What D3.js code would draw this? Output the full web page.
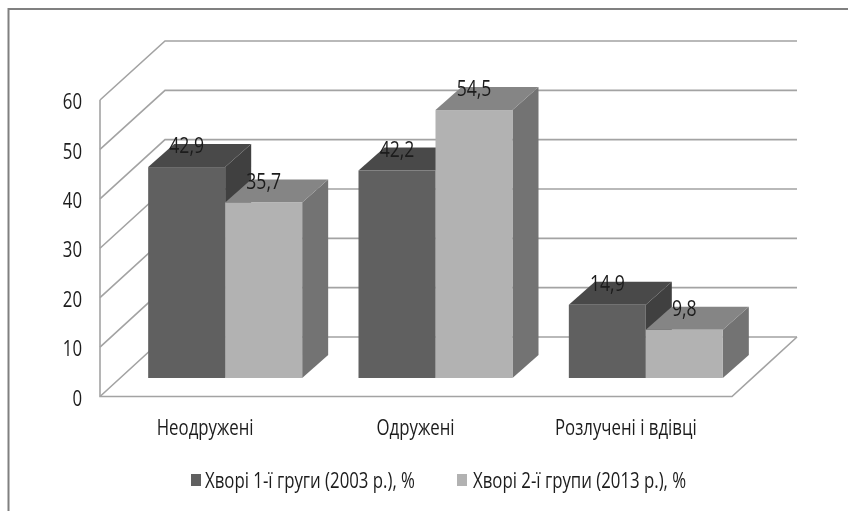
<!DOCTYPE html>
<html><head><meta charset="utf-8">
<script src="https://cdn.jsdelivr.net/npm/d3@7"></script>
<style>html,body{margin:0;padding:0;background:#fff}svg{display:block}text{font-family:"Open Sans",sans-serif;fill:#1c1c1c}</style>
</head><body><svg id="c" width="848" height="511"></svg>
<script>
const categories = ["Неодружені", "Одружені", "Розлучені і вдівці"];
const seriesNames = ["Хворі 1-ї груги (2003 р.), %", "Хворі 2-ї групи (2013 р.), %"];
const series1 = [42.9, 42.2, 14.9];
const series2 = [35.7, 54.5, 9.8];
const yTicks = [0, 10, 20, 30, 40, 50, 60];

const W = 848, H = 511;
const svg = d3.select("#c").attr("viewBox", [0, 0, W, H]);
const defs = svg.append("defs");
defs.append("filter").attr("id", "soft")
  .attr("filterUnits", "userSpaceOnUse").attr("x", 0).attr("y", 0).attr("width", W).attr("height", H)
  .append("feGaussianBlur").attr("stdDeviation", 0.45);
const root = svg.append("g").attr("filter", "url(#soft)");

const fmt = v => String(v).replace(".", ",");
const stretch = 0.8;
function label(g, x, y, s, anchor, size) {
  g.append("text").attr("transform", `translate(${x},${y}) scale(${stretch},1)`)
    .attr("text-anchor", anchor).attr("dominant-baseline", "central")
    .attr("font-size", size).text(s);
}

// outer frame (left and top only are visible)
root.append("path").attr("d", "M8.5,511V9H848").attr("fill", "none").attr("stroke", "#808080").attr("stroke-width", 2);

// wall geometry
const yFront = d3.scaleLinear().domain([0, 60]).range([396.5, 100]);
const yBack = d3.scaleLinear().domain([0, 60]).range([337, 41]);
const yBar = d3.scaleLinear().domain([0, 60]).range([378, 83]);
const xFrontL = 100, xFrontR = 732, xBackL = 165, xBackR = 797;

const grid = root.append("g").attr("fill", "none").attr("stroke", "#a3a3a3").attr("stroke-width", 1.6);
yTicks.forEach(t => {
  grid.append("path").attr("d", `M${xFrontL},${yFront(t)}L${xBackL},${yBack(t)}L${xBackR},${yBack(t)}`);
});
grid.append("path").attr("d", `M${xFrontL},${yFront(60)}V${yFront(0)}H${xFrontR}L${xBackR},${yBack(0)}`);

// bars
const x0 = d3.scaleBand().domain(categories).range([120, 751]);
const x1 = d3.scaleBand().domain([0, 1]).range([x0.bandwidth() / 2 - 77, x0.bandwidth() / 2 + 77]);
const depthX = 26, depthY = -23;
const palette = [
  { front: "#616161", top: "#4a4a4a", side: "#404040" },
  { front: "#b2b2b2", top: "#858585", side: "#737373" }
];
const bars = root.append("g");
const labelsG = root.append("g");
categories.forEach((c, i) => {
  [series1[i], series2[i]].forEach((v, s) => {
    const l = x0(c) + x1(s), r = l + x1.bandwidth(), t = yBar(v), b = yBar(0), p = palette[s];
    bars.append("path").attr("fill", p.side)
      .attr("d", `M${r},${t}L${r + depthX},${t + depthY}V${b + depthY}L${r},${b}Z`);
    bars.append("path").attr("fill", p.top)
      .attr("d", `M${l},${t}L${l + depthX},${t + depthY}H${r + depthX}L${r},${t}Z`);
    bars.append("rect").attr("x", l).attr("y", t).attr("width", r - l).attr("height", b - t).attr("fill", p.front);
    label(labelsG, (l + r) / 2, t - 22, fmt(v), "middle", 22);
  });
});

// y tick labels
const ax = root.append("g");
yTicks.forEach(t => label(ax, 82, yFront(t) + 1.5, t, "end", 21));

// category labels
categories.forEach(c => label(ax, x0(c) + x0.bandwidth() / 2 - 20, 427, c, "middle", 21));

// legend
const legendX = [191, 457], legendTextX = [205, 473];
seriesNames.forEach((n, i) => {
  ax.append("rect").attr("x", legendX[i]).attr("y", 474).attr("width", 10).attr("height", 12).attr("fill", palette[i].front);
  label(ax, legendTextX[i], 480, n, "start", 21);
});
</script></body></html>
